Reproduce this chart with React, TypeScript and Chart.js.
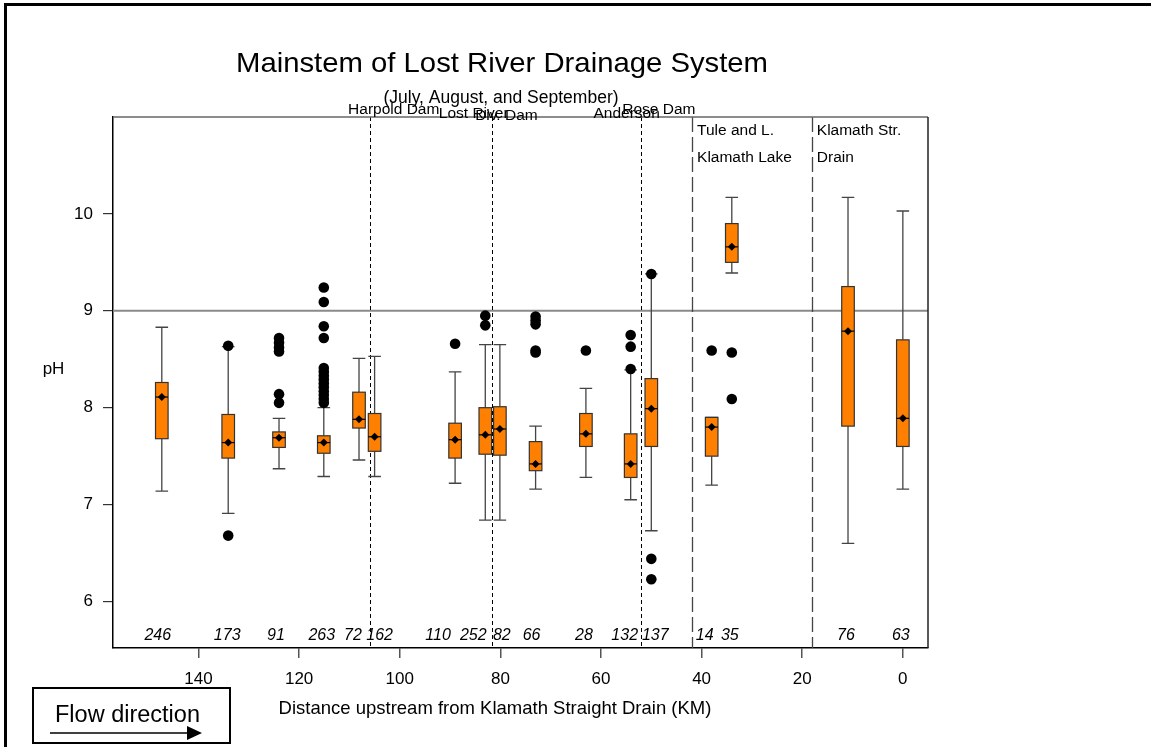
import React, { useEffect, useRef } from 'react';
import { Chart, registerables } from 'chart.js';

Chart.register(...registerables);

// ---------- data ----------
const sitePositionsKm = [147.3, 134.1, 124, 115.1, 108.1, 105, 89, 83, 80.1, 73, 63, 54.1, 50, 38, 34, 10.9, 0];
const sampleCounts = [246, 173, 91, 263, 72, 162, 110, 252, 82, 66, 28, 132, 137, 14, 35, 76, 63];
const whiskerLow = [7.14, 6.91, 7.37, 7.29, 7.46, 7.29, 7.22, 6.84, 6.84, 7.16, 7.28, 7.05, 6.73, 7.2, 9.39, 6.6, 7.16];
const quartile1 = [7.68, 7.48, 7.59, 7.53, 7.79, 7.55, 7.48, 7.52, 7.51, 7.35, 7.6, 7.28, 7.6, 7.5, 9.5, 7.81, 7.6];
const medians = [8.11, 7.64, 7.69, 7.64, 7.88, 7.7, 7.67, 7.72, 7.78, 7.42, 7.73, 7.42, 7.99, 7.8, 9.66, 8.79, 7.89];
const means = [8.11, 7.64, 7.69, 7.64, 7.88, 7.7, 7.67, 7.72, 7.78, 7.42, 7.73, 7.42, 7.99, 7.8, 9.66, 8.79, 7.89];
const quartile3 = [8.26, 7.93, 7.75, 7.71, 8.16, 7.94, 7.84, 8.0, 8.01, 7.65, 7.94, 7.73, 8.3, 7.9, 9.9, 9.25, 8.7];
const whiskerHigh = [8.83, 8.63, 7.89, 8.0, 8.51, 8.53, 8.37, 8.65, 8.65, 7.81, 8.2, 8.39, 9.38, 7.9, 10.17, 10.17, 10.03];
const outliers: number[][] = [
  [],
  [8.64, 6.68],
  [8.72, 8.67, 8.62, 8.58, 8.14, 8.05],
  [9.24, 9.09, 8.84, 8.72, 8.41, 8.37, 8.33, 8.29, 8.25, 8.21, 8.17, 8.13, 8.09, 8.05],
  [],
  [],
  [8.66],
  [8.95, 8.85],
  [],
  [8.94, 8.9, 8.86, 8.59, 8.57],
  [8.59],
  [8.75, 8.63, 8.4],
  [9.38, 6.44, 6.23],
  [8.59],
  [8.57, 8.09],
  [],
  [],
];

const damLinesKm = [106, 81.7, 52.1];
const sectionLinesKm = [41.9, 18.1];
const damLabels = [
  { text: 'Harpold Dam', km: 101.2, baseline: 114 },
  { text: 'Lost River', km: 85.3, baseline: 118 },
  { text: 'Div. Dam', km: 78.8, baseline: 119.5 },
  { text: 'Anderson', km: 54.9, baseline: 117.5 },
  { text: 'Rose Dam', km: 48.5, baseline: 114 },
];
const sectionLabels = [
  { lines: ['Tule and L.', 'Klamath Lake'], km: 41.9 },
  { lines: ['Klamath Str.', 'Drain'], km: 18.1 },
];
const xTickValues = [0, 20, 40, 60, 80, 100, 120, 140];
const yTickValues = [6, 7, 8, 9, 10];
const standardPH = 9;

const TITLE = 'Mainstem of Lost River Drainage System';
const SUBTITLE = '(July, August, and September)';
const X_TITLE = 'Distance upstream from Klamath Straight Drain (KM)';
const Y_TITLE = 'pH';
const FLOW_TEXT = 'Flow direction';

// layout / style constants
const FONT = '"Liberation Sans", Arial, Helvetica, sans-serif';
const BOX_HALF_KM = 1.25;
const COUNT_LABEL_SHIFT_PX = [-4, -1, -3, -2, -6, 5, -17, -12, 2, -4, -2, -6, 4, -7, -2, -2, -2];

const boxPlugin = {
  id: 'boxPlugin',
  beforeDatasetsDraw(chart: any) {
    const { ctx, chartArea: a, scales } = chart;
    const x = scales.x;
    const y = scales.y;
    ctx.save();
    const y9 = y.getPixelForValue(standardPH);
    ctx.strokeStyle = '#8a8a8a';
    ctx.lineWidth = 2;
    ctx.beginPath();
    ctx.moveTo(a.left, y9);
    ctx.lineTo(a.right, y9);
    ctx.stroke();
    ctx.strokeStyle = '#000';
    ctx.lineWidth = 1;
    ctx.setLineDash([4, 3]);
    damLinesKm.forEach((km) => {
      const px = Math.round(x.getPixelForValue(km)) + 0.5;
      ctx.beginPath();
      ctx.moveTo(px, a.top);
      ctx.lineTo(px, a.bottom);
      ctx.stroke();
    });
    ctx.strokeStyle = '#444';
    ctx.lineWidth = 1.3;
    ctx.setLineDash([15, 5]);
    sectionLinesKm.forEach((km) => {
      const px = Math.round(x.getPixelForValue(km)) + 0.5;
      ctx.beginPath();
      ctx.moveTo(px, a.top);
      ctx.lineTo(px, a.bottom);
      ctx.stroke();
    });
    ctx.setLineDash([]);

    sitePositionsKm.forEach((km, i) => {
      const cx = x.getPixelForValue(km);
      const half = Math.abs(x.getPixelForValue(km + BOX_HALF_KM) - cx);
      const yLo = y.getPixelForValue(whiskerLow[i]);
      const yQ1 = y.getPixelForValue(quartile1[i]);
      const yMed = y.getPixelForValue(medians[i]);
      const yQ3 = y.getPixelForValue(quartile3[i]);
      const yHi = y.getPixelForValue(whiskerHigh[i]);
      const yMean = y.getPixelForValue(means[i]);
      ctx.strokeStyle = '#444';
      ctx.lineWidth = 1.3;
      ctx.beginPath();
      ctx.moveTo(cx, yLo);
      ctx.lineTo(cx, yQ1);
      ctx.moveTo(cx, yQ3);
      ctx.lineTo(cx, yHi);
      ctx.moveTo(cx - half, yLo);
      ctx.lineTo(cx + half, yLo);
      ctx.moveTo(cx - half, yHi);
      ctx.lineTo(cx + half, yHi);
      ctx.stroke();
      ctx.fillStyle = '#FF8000';
      ctx.fillRect(cx - half, yQ3, half * 2, yQ1 - yQ3);
      ctx.strokeStyle = '#333';
      ctx.lineWidth = 1.2;
      ctx.strokeRect(cx - half, yQ3, half * 2, yQ1 - yQ3);
      ctx.strokeStyle = '#000';
      ctx.lineWidth = 1.2;
      ctx.beginPath();
      ctx.moveTo(cx - half, yMed);
      ctx.lineTo(cx + half, yMed);
      ctx.stroke();
      ctx.fillStyle = '#000';
      ctx.beginPath();
      ctx.moveTo(cx, yMean - 4);
      ctx.lineTo(cx + 4, yMean);
      ctx.lineTo(cx, yMean + 4);
      ctx.lineTo(cx - 4, yMean);
      ctx.closePath();
      ctx.fill();
    });
    ctx.restore();
  },
  afterDraw(chart: any) {
    const { ctx, chartArea: a, scales } = chart;
    const x = scales.x;
    ctx.save();
    ctx.strokeStyle = '#666';
    ctx.lineWidth = 1.5;
    ctx.beginPath();
    ctx.moveTo(a.left, a.top);
    ctx.lineTo(a.right, a.top);
    ctx.stroke();
    ctx.strokeStyle = '#222';
    ctx.beginPath();
    ctx.moveTo(a.right, a.top);
    ctx.lineTo(a.right, a.bottom);
    ctx.stroke();

    ctx.fillStyle = '#000';
    ctx.textBaseline = 'alphabetic';
    // title, stretched to the reference width
    ctx.textAlign = 'left';
    ctx.font = `28px ${FONT}`;
    const tw = ctx.measureText(TITLE).width;
    const targetW = 532;
    ctx.save();
    ctx.translate(502 - targetW / 2, 72);
    ctx.scale(targetW / tw, 1);
    ctx.fillText(TITLE, 0, 0);
    ctx.restore();

    ctx.textAlign = 'center';
    ctx.font = `17.5px ${FONT}`;
    ctx.fillText(SUBTITLE, 501, 103);

    ctx.font = `15.5px ${FONT}`;
    damLabels.forEach((d) => {
      ctx.fillText(d.text, x.getPixelForValue(d.km), d.baseline);
    });

    ctx.textAlign = 'left';
    ctx.font = `15.5px ${FONT}`;
    sectionLabels.forEach((s) => {
      const px = x.getPixelForValue(s.km) + 5;
      s.lines.forEach((t, j) => ctx.fillText(t, px, 134.5 + j * 27));
    });

    ctx.textAlign = 'center';
    ctx.font = `italic 16px ${FONT}`;
    sitePositionsKm.forEach((km, i) => {
      ctx.fillText(String(sampleCounts[i]), x.getPixelForValue(km) + COUNT_LABEL_SHIFT_PX[i], a.bottom - 8);
    });

    ctx.font = `17px ${FONT}`;
    ctx.fillText(Y_TITLE, 53.5, 374);
    ctx.font = `18.5px ${FONT}`;
    ctx.fillText(X_TITLE, 495, 714);

    ctx.strokeStyle = '#000';
    ctx.lineWidth = 2;
    ctx.strokeRect(33, 688, 197, 55);
    ctx.textAlign = 'left';
    ctx.font = `23.5px ${FONT}`;
    ctx.fillText(FLOW_TEXT, 55, 722);
    ctx.lineWidth = 1.5;
    ctx.beginPath();
    ctx.moveTo(50, 733);
    ctx.lineTo(190, 733);
    ctx.stroke();
    ctx.beginPath();
    ctx.moveTo(202, 733);
    ctx.lineTo(187, 726);
    ctx.lineTo(187, 740);
    ctx.closePath();
    ctx.fill();

    ctx.lineWidth = 3;
    ctx.beginPath();
    ctx.moveTo(5.5, 747);
    ctx.lineTo(5.5, 4.5);
    ctx.lineTo(1151, 4.5);
    ctx.stroke();
    ctx.restore();
  },
};

export default function App() {
  const canvasRef = useRef<HTMLCanvasElement | null>(null);

  useEffect(() => {
    const canvas = canvasRef.current;
    if (!canvas) return;
    const points: { x: number; y: number }[] = [];
    outliers.forEach((vals, i) => vals.forEach((v) => points.push({ x: sitePositionsKm[i], y: v })));

    const chart = new Chart(canvas, {
      type: 'scatter',
      data: {
        datasets: [
          {
            data: points,
            pointRadius: 5.3,
            pointBackgroundColor: '#000',
            pointBorderColor: '#000',
            pointBorderWidth: 0,
          },
        ],
      },
      options: {
        animation: false,
        responsive: false,
        devicePixelRatio: 1,
        layout: { padding: { left: 0, top: 117, right: 223, bottom: 0 } },
        plugins: { legend: { display: false }, tooltip: { enabled: false }, title: { display: false } },
        scales: {
          x: {
            type: 'linear',
            reverse: true,
            min: -5,
            max: 157,
            afterFit: (s: any) => {
              s.height = 99;
            },
            afterBuildTicks: (s: any) => {
              s.ticks = xTickValues.map((v) => ({ value: v }));
            },
            grid: { drawOnChartArea: false, drawTicks: true, tickLength: 10, color: '#555', lineWidth: 1.5 },
            border: { display: true, color: '#000', width: 1.5 },
            ticks: { color: '#000', font: { family: FONT, size: 17 }, padding: 11, maxRotation: 0, autoSkip: false },
          },
          y: {
            type: 'linear',
            min: 5.52,
            max: 11,
            afterFit: (s: any) => {
              s.width = 113;
            },
            afterBuildTicks: (s: any) => {
              s.ticks = yTickValues.map((v) => ({ value: v }));
            },
            grid: { drawOnChartArea: false, drawTicks: true, tickLength: 10, color: '#333', lineWidth: 1.2 },
            border: { display: true, color: '#000', width: 1.5 },
            ticks: { color: '#000', font: { family: FONT, size: 17 }, padding: 10, autoSkip: false },
          },
        },
      },
      plugins: [boxPlugin],
    });
    return () => chart.destroy();
  }, []);

  return (
    <div style={{ position: 'absolute', left: 0, top: 0, width: 1151, height: 747, background: '#fff' }}>
      <canvas ref={canvasRef} width={1151} height={747} style={{ display: 'block' }} />
    </div>
  );
}
